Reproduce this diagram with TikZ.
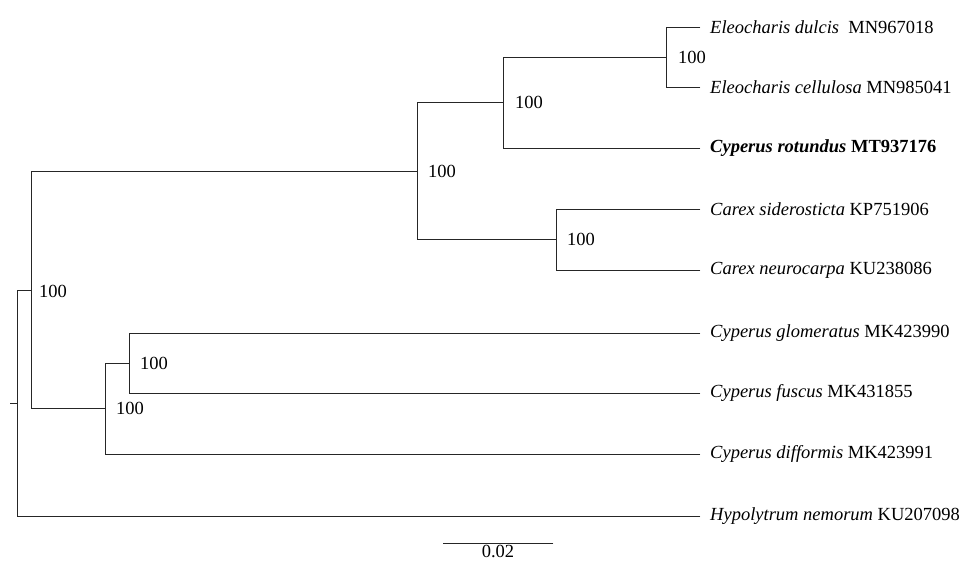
\documentclass[tikz,border=0pt]{standalone}
\usepackage{fontspec}
\setmainfont{Liberation Serif}
\usetikzlibrary{calc}
\begin{document}
\begin{tikzpicture}[x=1pt,y=-1pt,
  br/.style={line width=0.8pt, draw=black!85, line cap=rect},
  leaf/.style={anchor=west, inner sep=0pt, font=\fontsize{18.5}{21}\selectfont},
  boot/.style={anchor=west, inner sep=0pt, font=\fontsize{18.5}{21}\selectfont}]
\useasboundingbox (0,0) rectangle (967,560);
% internal nodes
\coordinate (stub) at (10,403);
\coordinate (root) at (17,403);
\coordinate (C) at (31,290);
\coordinate (B) at (417,171);
\coordinate (A) at (503,102);
\coordinate (E) at (666,57);
\coordinate (K) at (556,239.5);
\coordinate (G) at (105,408);
\coordinate (F) at (129,363);
% leaf ends
\coordinate (l1) at (700,27);
\coordinate (l2) at (700,87);
\coordinate (l3) at (700,148);
\coordinate (l4) at (700,209);
\coordinate (l5) at (700,270);
\coordinate (l6) at (700,333);
\coordinate (l7) at (700,393);
\coordinate (l8) at (700,454);
\coordinate (l9) at (700,516);
% branches
\draw[br] (stub) -- (root);
\draw[br] (root) |- (C);
\draw[br] (root) |- (l9);
\draw[br] (C) |- (B);
\draw[br] (C) |- (G);
\draw[br] (B) |- (A);
\draw[br] (B) |- (K);
\draw[br] (A) |- (E);
\draw[br] (A) |- (l3);
\draw[br] (E) |- (l1);
\draw[br] (E) |- (l2);
\draw[br] (K) |- (l4);
\draw[br] (K) |- (l5);
\draw[br] (G) |- (F);
\draw[br] (G) |- (l8);
\draw[br] (F) |- (l6);
\draw[br] (F) |- (l7);
% leaf labels
\node[leaf] (t1) at ([xshift=10pt]l1) {\textit{Eleocharis dulcis}\ \ MN967018};
\node[leaf] (t2) at ([xshift=10pt]l2) {\textit{Eleocharis cellulosa} MN985041};
\node[leaf] (t3) at ([xshift=10pt]l3) {\textbf{\textit{Cyperus rotundus} MT937176}};
\node[leaf] (t4) at ([xshift=10pt]l4) {\textit{Carex siderosticta} KP751906};
\node[leaf] (t5) at ([xshift=10pt]l5) {\textit{Carex neurocarpa} KU238086};
\node[leaf] (t6) at ([xshift=10pt]l6) {\textit{Cyperus glomeratus} MK423990};
\node[leaf] (t7) at ([xshift=10pt]l7) {\textit{Cyperus fuscus} MK431855};
\node[leaf] (t8) at ([xshift=10pt]l8) {\textit{Cyperus difformis} MK423991};
\node[leaf] (t9) at ([xshift=10pt]l9) {\textit{Hypolytrum nemorum} KU207098};
% bootstrap values
\node[boot] (bC) at ([xshift=8pt,yshift=-1pt]C) {100};
\node[boot] (bB) at ([xshift=11pt]B) {100};
\node[boot] (bA) at ([xshift=12pt]A) {100};
\node[boot] (bE) at ([xshift=12pt]E) {100};
\node[boot] (bK) at ([xshift=11pt]K) {100};
\node[boot] (bG) at ([xshift=11pt]G) {100};
\node[boot] (bF) at ([xshift=11pt]F) {100};
% scale bar
\coordinate (s1) at (443,543);
\coordinate (s2) at (553,543);
\draw[br] (s1) -- (s2);
\node[boot, anchor=north] (sl) at ([yshift=-1.5pt]$(s1)!0.5!(s2)$) {0.02};
\end{tikzpicture}
\end{document}
